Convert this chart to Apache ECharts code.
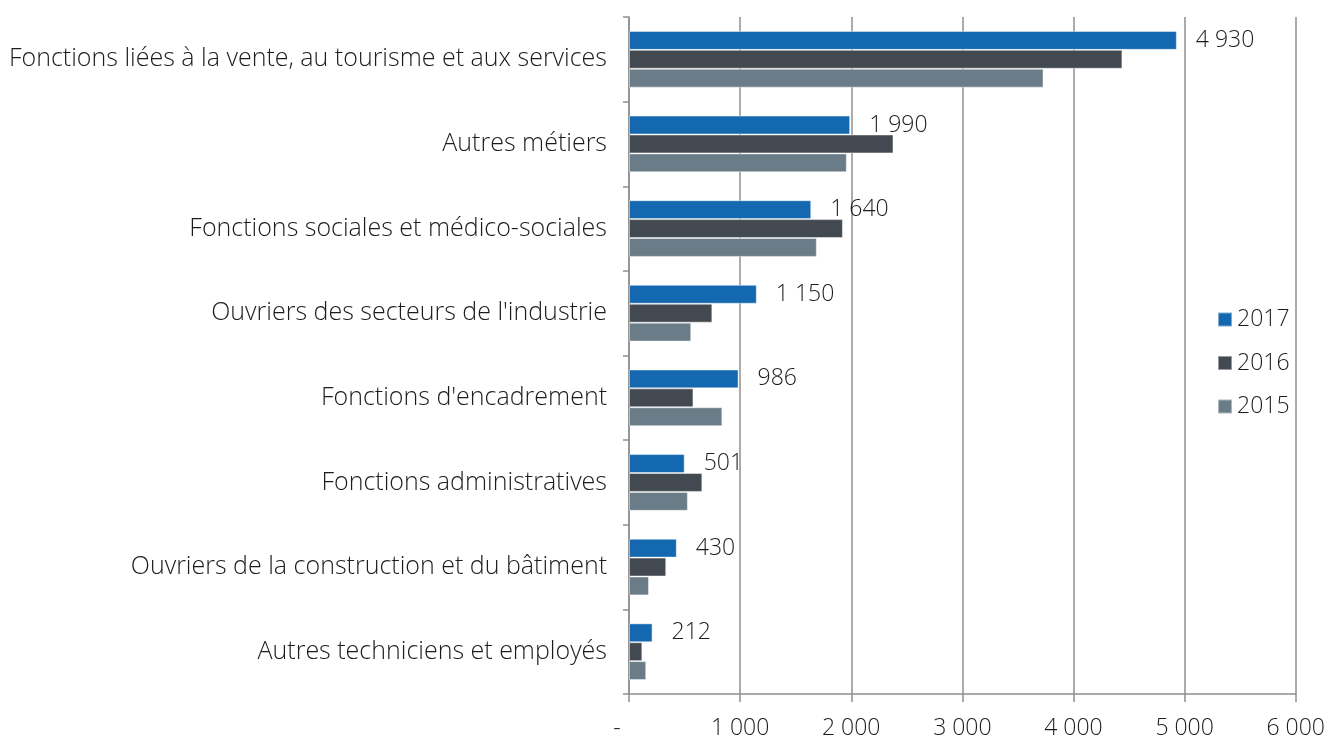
<!DOCTYPE html>
<html>
<head>
<meta charset="utf-8">
<script src="https://cdn.jsdelivr.net/npm/echarts@6/dist/echarts.min.js"></script>
<style>
  html, body { margin: 0; padding: 0; background: #fff; }
  #chart { width: 1328px; height: 740px; }
</style>
</head>
<body>
<div id="chart"></div>
<script>
// Catégories (de haut en bas)
const categories = [
  'Fonctions liées à la vente, au tourisme et aux services',
  'Autres métiers',
  'Fonctions sociales et médico-sociales',
  "Ouvriers des secteurs de l'industrie",
  "Fonctions d'encadrement",
  'Fonctions administratives',
  'Ouvriers de la construction et du bâtiment',
  'Autres techniciens et employés'
];

const values2017 = [4930, 1990, 1640, 1150, 986, 501, 430, 212];
const values2016 = [4440, 2380, 1925, 750, 580, 660, 335, 120];
const values2015 = [3730, 1960, 1690, 560, 840, 530, 180, 155];

const xTicks = [0, 1000, 2000, 3000, 4000, 5000, 6000];

const FONT = 'Open Sans';
const TEXT = '#1c1c1c';
const GRID = '#8f8f8f';

// séparateur de milliers avec espace
const fmt = (v) => String(v).replace(/\B(?=(\d{3})+(?!\d))/g, ' ');

const chart = echarts.init(document.getElementById('chart'));

const barStyle = (color) => ({
  color: color,
  borderColor: 'rgba(255,255,255,0.45)',
  borderWidth: 1
});

const option = {
  backgroundColor: '#fff',
  animation: false,
  textStyle: { fontFamily: FONT, fontWeight: 300, color: TEXT },
  grid: { left: 629, right: 27, top: 17, bottom: 39, containLabel: false },
  legend: {
    orient: 'vertical',
    left: 1212,
    top: 303,
    itemWidth: 14,
    itemHeight: 14,
    itemGap: 20.5,
    icon: 'rect',
    data: ['2017', '2016', '2015'],
    textStyle: { fontFamily: FONT, fontWeight: 300, fontSize: 23, color: TEXT }
  },
  xAxis: {
    type: 'value',
    min: xTicks[0],
    max: xTicks[xTicks.length - 1],
    interval: 1000,
    axisLine: { show: true, lineStyle: { color: GRID, width: 1.5 } },
    axisTick: { show: true, length: 8, lineStyle: { color: GRID, width: 1.5 } },
    splitLine: { show: true, lineStyle: { color: GRID, width: 1.5 } },
    axisLabel: {
      margin: 23,
      fontFamily: FONT,
      fontWeight: 300,
      fontSize: 23,
      color: TEXT,
      formatter: (v) => (v === 0 ? '{z|-}' : fmt(v)),
      rich: { z: { fontFamily: FONT, fontWeight: 300, fontSize: 23, color: TEXT, padding: [0, 24, 0, 0] } }
    }
  },
  yAxis: {
    type: 'category',
    inverse: true,
    data: categories,
    axisLine: { show: true, lineStyle: { color: GRID, width: 1.5 } },
    axisTick: { show: true, length: 6, alignWithLabel: false, lineStyle: { color: GRID, width: 1.5 } },
    splitLine: { show: false },
    axisLabel: {
      margin: 22,
      fontFamily: FONT,
      fontWeight: 300,
      fontSize: 25,
      color: TEXT,
      padding: [3, 0, 0, 0]
    }
  },
  series: [
    {
      name: '2017',
      type: 'bar',
      data: values2017,
      barGap: '0%',
      barCategoryGap: '33%',
      itemStyle: barStyle('#1468b0'),
      label: {
        show: true,
        position: 'right',
        distance: 19,
        fontFamily: FONT,
        fontWeight: 300,
        fontSize: 23,
        color: TEXT,
        formatter: (p) => fmt(p.value)
      }
    },
    {
      name: '2016',
      type: 'bar',
      data: values2016,
      barGap: '0%',
      barCategoryGap: '33%',
      itemStyle: barStyle('#424950')
    },
    {
      name: '2015',
      type: 'bar',
      data: values2015,
      barGap: '0%',
      barCategoryGap: '33%',
      itemStyle: barStyle('#6a7c87')
    }
  ]
};

chart.setOption(option);
window.addEventListener('resize', () => chart.resize());
</script>
</body>
</html>
